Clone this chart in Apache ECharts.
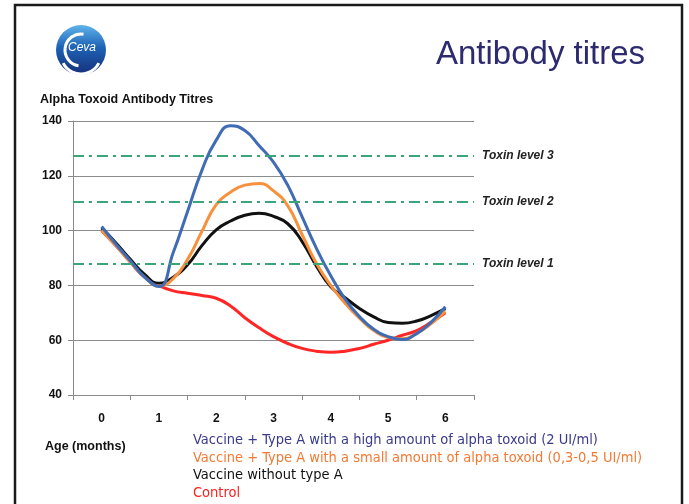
<!DOCTYPE html>
<html><head><meta charset="utf-8">
<script src="https://cdn.jsdelivr.net/npm/echarts@6/dist/echarts.min.js"></script>
<style>html,body{margin:0;padding:0;background:#fff}#c{width:689px;height:504px}</style>
</head><body><div id="c"></div>
<script>
// ---- data ----
const ageLabels = ['0', '1', '2', '3', '4', '5', '6'];
const seriesNames = [
  'Vaccine + Type A with a high amount of alpha toxoid (2 UI/ml)',
  'Vaccine + Type A with a small amount of alpha toxoid (0,3-0,5 UI/ml)',
  'Vaccine without type A',
  'Control'
];
const yAxisTitle = 'Alpha Toxoid Antibody Titres';
const xAxisTitle = 'Age (months)';
// ages (months) at which the curves were read, every quarter month
const ages = [0, 0.25, 0.5, 0.75, 1, 1.25, 1.5, 1.75, 2, 2.25, 2.5, 2.75, 3, 3.25, 3.5, 3.75, 4, 4.25, 4.5, 4.75, 5, 5.25, 5.5, 5.75, 6];
const highDose = [101.5, 95, 89, 83, 79.6, 92, 107, 122, 133, 138.3, 136.5, 131, 125, 116.5, 105, 93.5, 83.5, 75, 68.6, 64, 61.3, 60.3, 62.4, 66.5, 72.2];
const lowDose  = [100, 94.5, 88.5, 83, 79.8, 82.5, 89.5, 99.7, 109.5, 114, 116.6, 117.2, 114.5, 109, 98.5, 88, 80, 73.5, 68, 63.5, 61, 60.5, 62.5, 66, 70.5];
const noTypeA  = [101, 95.5, 89.5, 84, 80.8, 83, 87.5, 94.5, 100.3, 103.5, 105.6, 106.3, 105.2, 102.5, 96, 87, 79.5, 75.5, 71.6, 68.5, 66.5, 66.2, 67, 69, 71.5];
const control  = [100, 94.5, 88.5, 83, 80, 78, 77.1, 76.3, 75.3, 72.5, 68.2, 64.5, 61.3, 58.8, 57, 56, 55.6, 56, 57, 58.5, 60, 61.8, 63.5, 66.5, 70];
const toxinNames = ['Toxin level 3', 'Toxin level 2', 'Toxin level 1'];
const toxinValues = [127.5, 110.5, 88];
const yMin = 40, yMax = 140, yStep = 20;

const lineColors = ['#3f6cb4', '#f7913d', '#111111', '#ff2626'];
const legendColors = ['#3a3a8c', '#f27a35', '#111111', '#ff2020'];
const NARROW = '"Liberation Sans Narrow", "DejaVu Sans Condensed", "Liberation Sans", sans-serif';
const SANS = '"Liberation Sans", Arial, sans-serif';

const chart = echarts.init(document.getElementById('c'));
const dataSets = [highDose, lowDose, noTypeA, control];
const drawOrder = [3, 2, 1, 0];
const series = drawOrder.map(i => ({
  name: seriesNames[i], type: 'line', xAxisIndex: 1,
  data: ages.map((a, k) => [a, dataSets[i][k]]),
  smooth: 0.5, showSymbol: false, symbol: 'none',
  lineStyle: { color: lineColors[i], width: 3 }, itemStyle: { color: lineColors[i] },
  silent: true, animation: false
}));
series.unshift({
  name: 'toxin', type: 'line', xAxisIndex: 1, data: [], animation: false, silent: true,
  markLine: {
    silent: true, symbol: ['none', 'none'], animation: false,
    lineStyle: { color: '#3aa678', type: [11, 5, 3, 5], width: 2.2 },
    label: { show: true, position: 'end', distance: 8, formatter: '{b}', color: '#222',
      fontFamily: SANS, fontStyle: 'italic', fontWeight: 'bold', fontSize: 12 },
    data: toxinNames.map((n, k) => ({ name: n, yAxis: toxinValues[k] }))
  }
});

chart.setOption({
  animation: false,
  backgroundColor: '#fff',
  grid: { left: 73, right: 215, top: 121, bottom: 109, containLabel: false },
  xAxis: [
    { type: 'category', data: ageLabels, boundaryGap: true,
      axisLine: { lineStyle: { color: '#8a8a8a', width: 1 } },
      axisTick: { show: true, length: 5, lineStyle: { color: '#8a8a8a' } },
      axisLabel: { margin: 18, color: '#111', fontWeight: 'bold', fontSize: 12, fontFamily: SANS },
      splitLine: { show: false } },
    { type: 'value', min: -0.5, max: 6.5, show: false }
  ],
  yAxis: {
    type: 'value', min: yMin, max: yMax, interval: yStep,
    axisLine: { show: true, onZero: false, lineStyle: { color: '#8a8a8a', width: 1 } },
    axisTick: { show: true, length: 5, lineStyle: { color: '#8a8a8a' } },
    axisLabel: { margin: 11, color: '#111', fontWeight: 'bold', fontSize: 12, fontFamily: SANS },
    splitLine: { show: true, lineStyle: { color: '#8c8c8c', width: 1 } }
  },
  legend: {
    orient: 'vertical', left: 188, top: 433, padding: 0, itemGap: 2.5, itemWidth: 0, itemHeight: 14,
    icon: 'none', selectedMode: false,
    textStyle: { fontSize: 14.5, lineHeight: 14, fontFamily: NARROW },
    data: seriesNames.map((n, i) => ({ name: n, icon: 'none', textStyle: { color: legendColors[i] } }))
  },
  graphic: [
    { type: 'rect', shape: { x: 15, y: 5, width: 667, height: 520 },
      style: { fill: 'none', stroke: '#1a1a1a', lineWidth: 2.5 }, silent: true },
    { type: 'text', left: 436, top: 38,
      style: { text: 'Antibody titres', fill: '#2d2a70', font: '33px ' + SANS } },
    { type: 'text', left: 40, top: 93,
      style: { text: yAxisTitle, fill: '#111', font: 'bold 12.5px ' + SANS } },
    { type: 'text', left: 45, top: 440,
      style: { text: xAxisTitle, fill: '#111', font: 'bold 12.5px ' + SANS } },
    { type: 'group', left: 56, top: 25, children: [
      { type: 'circle', shape: { cx: 25, cy: 25, r: 25 },
        style: { fill: new echarts.graphic.LinearGradient(0, 0, 0, 1, [
          { offset: 0, color: '#5fb3ea' }, { offset: 0.45, color: '#1d62b5' }, { offset: 1, color: '#162f78' }]) } },
      { type: 'arc', shape: { cx: 25, cy: 25, r: 16, startAngle: Math.PI * 0.55, endAngle: Math.PI * 1.55 },
        style: { stroke: '#fff', lineWidth: 3, fill: 'none' } },
      { type: 'arc', shape: { cx: 25, cy: 29, r: 20, startAngle: Math.PI * 0.15, endAngle: Math.PI * 0.85 },
        style: { stroke: '#fff', lineWidth: 3, fill: 'none' } },
      { type: 'text', x: 26, y: 23,
        style: { text: 'Ceva', fill: '#fff', font: 'italic 12px ' + SANS, align: 'center', verticalAlign: 'middle' } }
    ] }
  ],
  series: series
});
</script>
</body></html>
